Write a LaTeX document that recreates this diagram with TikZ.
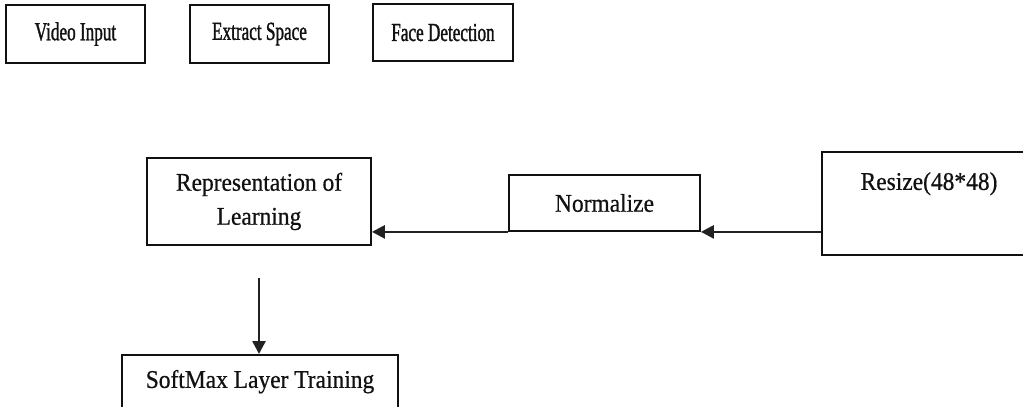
\documentclass[tikz,border=0pt]{standalone}
\usepackage{fontspec}
\setmainfont{Liberation Serif}
\newfontfamily\fdTopFont{Liberation Serif}[FakeStretch=0.66,FakeBold=1.2]
\newfontfamily\fdMainFont{Liberation Serif}[FakeStretch=0.92,FakeBold=0.6]
\usetikzlibrary{arrows.meta}
\definecolor{fdInk}{HTML}{111111}
\definecolor{fdLine}{HTML}{222222}
\tikzset{
  fd box/.style={draw=fdInk, line width=1.8pt, rectangle, inner sep=0pt, text=fdInk},
  fd top/.style={fd box, minimum width=139pt, minimum height=58pt, font=\fdTopFont\fontsize{26}{30}\selectfont},
  fd label/.style={fd box, align=center, font=\fdMainFont\fontsize{25.5}{34}\selectfont},
  fd arrow/.style={draw=fdLine, line width=2.6pt, -{Triangle[length=13pt,width=13pt]}},
}
\begin{document}
\begin{tikzpicture}[x=1pt,y=-1pt]
\useasboundingbox (0,0) rectangle (1023,407);
\node[fd top] (video) at (75.5,34) {Video Input};
\node[fd top] (extract) at (259.5,34) {Extract Space};
\node[fd top, minimum width=140pt, minimum height=57pt] (face) at (443,32.5) {Face Detection};
\node[fd label, minimum width=224pt, minimum height=87pt] (rep) at (259,201.5) {Representation of\\Learning};
\node[fd label, minimum width=191pt, minimum height=56pt] (norm) at (604.5,203) {Normalize};
\node[fd label, anchor=north, minimum width=214pt, text height=38pt, text depth=65pt] (resize) at (929,151) {Resize(48*48)};
\node[fd label, anchor=north, minimum width=276pt, text height=33pt, text depth=60pt] (softmax) at (260,354) {SoftMax Layer Training};
\draw[fd arrow] (resize.west |- norm.south) -- (norm.south east);
\draw[fd arrow] (norm.south west) -- (norm.south west -| rep.east);
\draw[fd arrow, shorten <=32pt] (rep.south) -- (rep.south |- softmax.north);
\end{tikzpicture}
\end{document}
